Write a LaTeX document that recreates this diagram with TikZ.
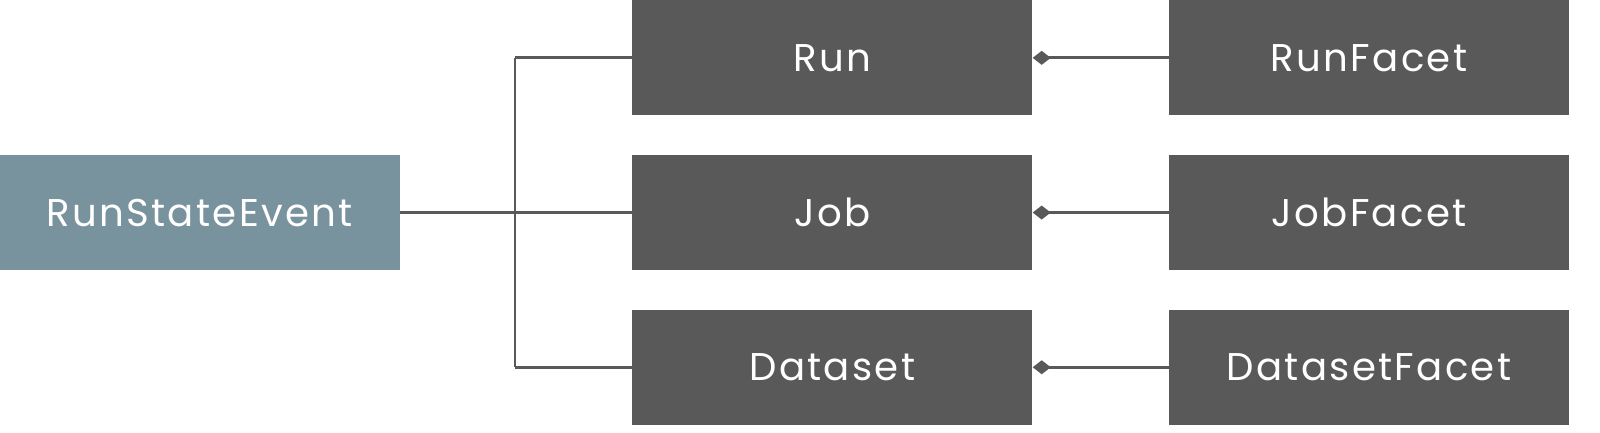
\documentclass[tikz,border=0pt]{standalone}
\usepackage{fontspec}
\setmainfont{Poppins}[LetterSpace=6]
\usetikzlibrary{arrows.meta, positioning}
\definecolor{eventblue}{HTML}{78929E}
\definecolor{boxgrey}{HTML}{595959}

\begin{document}
\begin{tikzpicture}[
        event/.style = {
            rectangle,
            fill=eventblue,
            text=white,
            font = \fontsize{22}{26}\selectfont,
            minimum width=8cm,
            minimum height=2.3cm,
            inner sep=0pt
        },
        entity/.style = {
            rectangle,
            fill=boxgrey,
            text=white,
            font = \fontsize{22}{26}\selectfont,
            minimum width=8cm,
            minimum height=2.3cm,
            inner sep=0pt
        },
        link/.style = {
            draw=boxgrey,
            line width=1.7pt
        }]
        \useasboundingbox (0,0) rectangle (32,-8.66);

        \node (run) [entity, anchor=north west] at (12.64,0) {Run};
        \node (job) [entity, below=0.78cm of run] {Job};
        \node (dataset) [entity, below=0.78cm of job] {Dataset};

        \node (run_facet) [entity, right=2.72cm of run] {RunFacet};
        \node (job_facet) [entity, right=2.72cm of job] {JobFacet};
        \node (dataset_facet) [entity, right=2.72cm of dataset] {DatasetFacet};

        \node (event) [event, left=4.64cm of job] {RunStateEvent};

        \coordinate (split) at (10.3,-4.22);

        \draw[link] (event) -- (job);
        \draw[link] (split |- run) -- (split |- dataset);
        \draw[link] (split |- run) -- (run);
        \draw[link] (split |- dataset) -- (dataset);

        \draw[link, {Diamond[length=0.36cm, width=0.28cm]}-] (run) -- (run_facet);
        \draw[link, {Diamond[length=0.36cm, width=0.28cm]}-] (job) -- (job_facet);
        \draw[link, {Diamond[length=0.36cm, width=0.28cm]}-] (dataset) -- (dataset_facet);
    \end{tikzpicture}
\end{document}
